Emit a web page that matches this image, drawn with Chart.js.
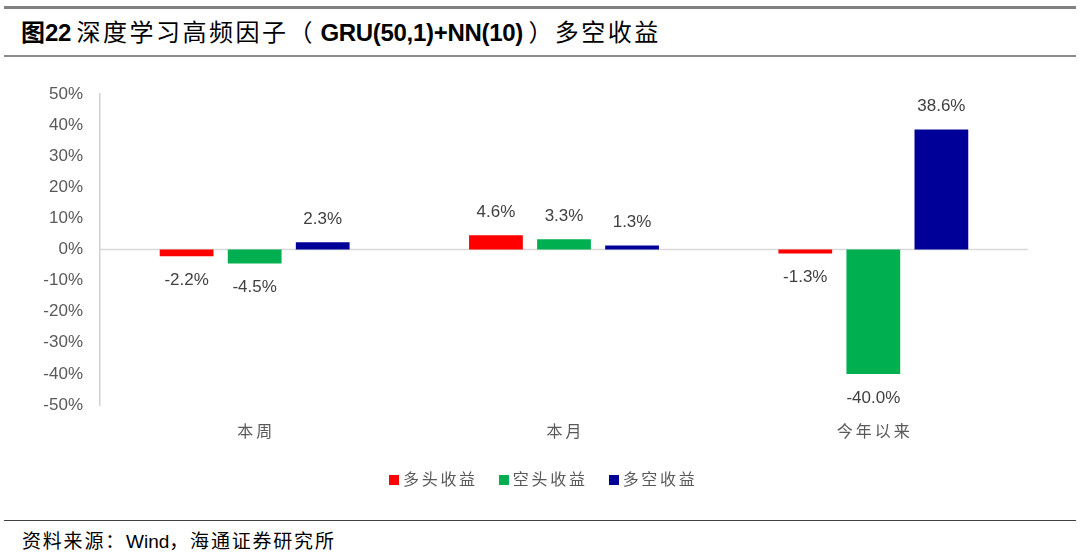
<!DOCTYPE html>
<html>
<head>
<meta charset="utf-8">
<script src="https://cdn.jsdelivr.net/npm/chart.js@4.4.0/dist/chart.umd.min.js"></script>
<style>
    html, body { margin: 0; padding: 0; background: #fff; }
    body { width: 1080px; height: 558px; position: relative; overflow: hidden; }
    .rule { position: absolute; left: 4px; right: 4px; }
    .title {
        position: absolute; left: 21px; top: 13px;
        font-size: 24px; color: #000; white-space: nowrap;
        font-family: "Noto Sans CJK SC", sans-serif;
    }
    .title .cjk { letter-spacing: 2.5px; }
    .title .lat { font-family: "Liberation Sans", Arial, sans-serif; font-weight: bold; letter-spacing: -0.3px; }
    .title .b { font-weight: bold; }
    .source {
        position: absolute; left: 22px; top: 526px;
        font-size: 19px; color: #000; white-space: nowrap; letter-spacing: 1.8px;
        font-family: "Noto Sans CJK SC", sans-serif;
    }
    .source .lat { font-family: "Liberation Sans", Arial, sans-serif; letter-spacing: 0; }
    .chart-container { position: absolute; left: 0; top: 60px; width: 1080px; height: 445px; }
    .legend {
        position: absolute; left: 389px; top: 466px; white-space: nowrap;
        font-family: "Noto Sans CJK SC", sans-serif; font-size: 16px; color: #595959;
    }
    .legend span.item { display: inline-block; margin-right: 21px; letter-spacing: 2.7px; }
    .legend i { display: inline-block; width: 10px; height: 10px; margin-right: 4px; vertical-align: 0px; }
</style>
</head>
<body>
<div class="rule" style="top:6px;height:3px;background:#808080;"></div>
<div class="title"><span class="b">图</span><span class="lat">22</span> <span class="cjk">深度学习高频因子（</span> <span class="lat">GRU(50,1)+NN(10)</span> <span class="cjk">）多空收益</span></div>
<div class="rule" style="top:55px;height:2px;background:#8c8c8c;"></div>
<div class="chart-container"><canvas id="returnChart"></canvas></div>
<div class="legend" id="legend"></div>
<div class="rule" style="top:520px;height:1px;background:#404040;"></div>
<div class="source">资料来源：<span class="lat">Wind</span>，海通证券研究所</div>

<script>
// Categories and series (percent)
const categories = ['本周', '本月', '今年以来'];
const longReturn = [-2.2, 4.6, -1.3];     // 多头收益
const shortReturn = [-4.5, 3.3, -40.0];   // 空头收益
const longShortReturn = [2.3, 1.3, 38.6]; // 多空收益
const yTicks = [-50, -40, -30, -20, -10, 0, 10, 20, 30, 40, 50];

const textColor = '#595959';

// value labels on bar ends
const barLabels = {
    id: 'barLabels',
    afterDatasetsDraw(chart) {
        const ctx = chart.ctx;
        ctx.save();
        ctx.font = '17px "Liberation Sans", Arial, sans-serif';
        ctx.fillStyle = '#404040';
        ctx.textAlign = 'center';
        ctx.textBaseline = 'middle';
        chart.data.datasets.forEach(function(ds, i) {
            chart.getDatasetMeta(i).data.forEach(function(bar, j) {
                const v = ds.data[j];
                const y = v >= 0 ? bar.y - 23 : bar.y + 24;
                ctx.fillText(v.toFixed(1) + '%', bar.x, y);
            });
        });
        ctx.restore();
    }
};

// category labels drawn with spaced-out characters
const categoryLabels = {
    id: 'categoryLabels',
    afterDraw(chart) {
        const ctx = chart.ctx;
        const xs = chart.scales.x;
        ctx.save();
        ctx.font = '16px "Noto Sans CJK SC", sans-serif';
        ctx.fillStyle = textColor;
        ctx.letterSpacing = '3px';
        ctx.textAlign = 'center';
        ctx.textBaseline = 'middle';
        chart.data.labels.forEach(function(label, i) {
            ctx.fillText(label, xs.getPixelForValue(i) + 1.5, chart.chartArea.bottom + 26);
        });
        ctx.restore();
    }
};

const zeroLine = {
    id: 'zeroLine',
    beforeDatasetsDraw(chart) {
        const c = chart.ctx;
        const y0 = chart.scales.y.getPixelForValue(0);
        c.save();
        c.strokeStyle = '#d9d9d9';
        c.lineWidth = 1.5;
        c.beginPath();
        c.moveTo(chart.chartArea.left, y0);
        c.lineTo(chart.chartArea.right, y0);
        c.stroke();
        c.restore();
    }
};

document.addEventListener('DOMContentLoaded', function() {
    const ctx = document.getElementById('returnChart');
    const chart = new Chart(ctx.getContext('2d'), {
        type: 'bar',
        data: {
            labels: categories,
            datasets: [
                { label: '多头收益', data: longReturn, backgroundColor: '#FF0000' },
                { label: '空头收益', data: shortReturn, backgroundColor: '#00B050' },
                { label: '多空收益', data: longShortReturn, backgroundColor: '#000099' }
            ]
        },
        options: {
            responsive: true,
            maintainAspectRatio: false,
            animation: false,
            datasets: {
                bar: { categoryPercentage: 0.66, barPercentage: 0.79 }
            },
            layout: { padding: { left: 0, right: 52, top: 34, bottom: 52 } },
            plugins: {
                legend: { display: false },
                tooltip: { enabled: false }
            },
            scales: {
                y: {
                    min: -50,
                    max: 50,
                    afterBuildTicks: function(scale) {
                        scale.ticks = yTicks.map(function(v) { return { value: v }; });
                    },
                    afterFit: function(scale) { scale.width = 100; },
                    ticks: {
                        color: textColor,
                        padding: 17,
                        font: { size: 17, family: '"Liberation Sans", Arial, sans-serif' },
                        callback: function(value) { return value + '%'; }
                    },
                    grid: { display: false, drawTicks: false },
                    border: { display: true, color: '#d0d0d0', width: 1.5 }
                },
                x: {
                    afterFit: function(scale) { scale.height = 48; },
                    ticks: { display: false },
                    grid: { display: false, drawTicks: false },
                    border: { display: false }
                }
            }
        },
        plugins: [zeroLine, barLabels, categoryLabels]
    });

    // legend built from the chart's datasets
    const legend = document.getElementById('legend');
    chart.data.datasets.forEach(function(ds) {
        const item = document.createElement('span');
        item.className = 'item';
        const box = document.createElement('i');
        box.style.background = ds.backgroundColor;
        item.appendChild(box);
        item.appendChild(document.createTextNode(ds.label));
        legend.appendChild(item);
    });
});
</script>
</body>
</html>
